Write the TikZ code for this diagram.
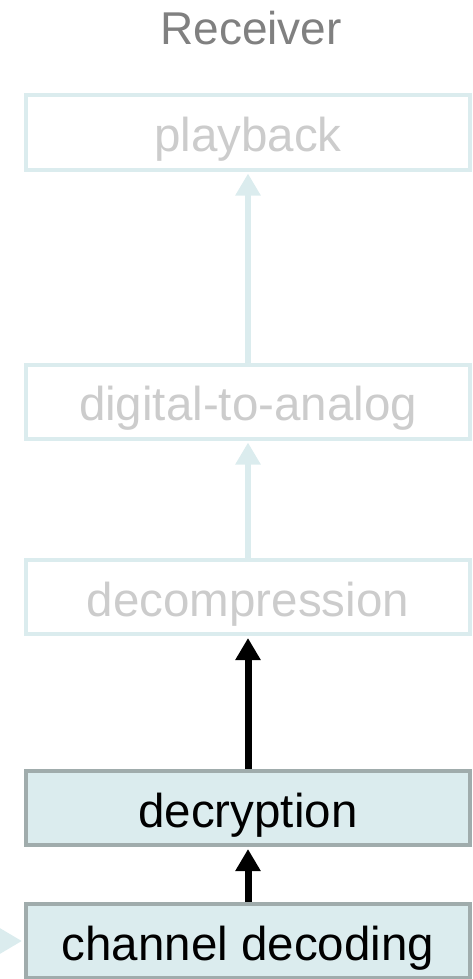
\documentclass[tikz,border=0pt]{standalone}
\usepackage{fontspec}
\setmainfont{Liberation Sans}
\usetikzlibrary{arrows.meta}
\definecolor{rxfill}{RGB}{219,236,238}
\definecolor{rxedge}{RGB}{160,172,172}
\definecolor{rxfade}{RGB}{204,204,204}
\definecolor{rxtitle}{RGB}{128,128,128}

\tikzset{
  stage/.style={draw=rxedge, fill=rxfill, line width=4pt, minimum width=444pt,
    minimum height=74pt, inner sep=0pt, text height=38pt, text depth=0pt,
    font=\fontsize{47.5}{50}\selectfont},
  stageoff/.style={stage, draw=rxfill, fill=white, text=rxfade},
  flow/.style={line width=7pt, -{Triangle[width=24pt,length=22pt]}, shorten >=2pt},
  flowoff/.style={flow, line width=6pt, draw=rxfill}
}

\begin{document}
\begin{tikzpicture}[x=1pt, y=-1pt]
    \useasboundingbox (0,0) rectangle (473,979);
    \node[text=rxtitle, font=\fontsize{46}{50}\selectfont] (title) at (251,28) {Receiver};
    \node[stageoff] (play) at (248,132.5) {playback};
    \node[stageoff] (dac) at (248,401.5) {digital-to-analog};
    \node[stageoff] (dcmp) at (248,597) {decompression};
    \node[stage] (decr) at (248,808) {decryption};
    \node[stage] (chan) at (248,941) {channel decoding};
    \coordinate (in) at (-40,941);
    % upward flow
    \draw[flowoff] (dac.north) -- (play.south);
    \draw[flowoff] (dcmp.north) -- (dac.south);
    \draw[flow] (decr.north) -- (dcmp.south);
    \draw[flow] (chan.north) -- (decr.south);
    \draw[flowoff] (in) -- (chan.west);
  \end{tikzpicture}
\end{document}
